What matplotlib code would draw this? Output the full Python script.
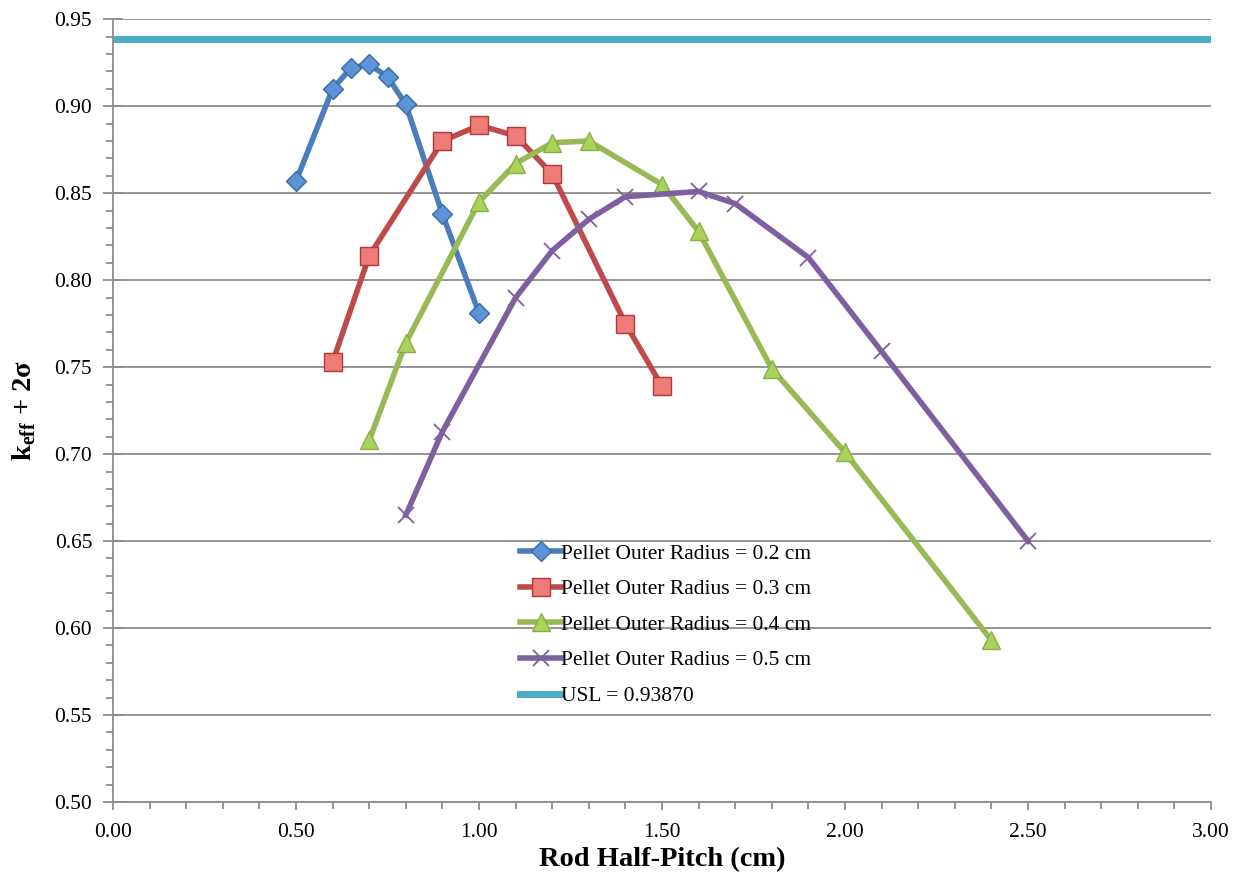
import matplotlib.pyplot as plt
from matplotlib.ticker import MultipleLocator, FormatStrFormatter

# data
x_02 = [0.5, 0.6, 0.65, 0.7, 0.75, 0.8, 0.9, 1.0]
k_02 = [0.857, 0.910, 0.922, 0.924, 0.917, 0.901, 0.838, 0.781]

x_03 = [0.6, 0.7, 0.9, 1.0, 1.1, 1.2, 1.4, 1.5]
k_03 = [0.753, 0.814, 0.880, 0.889, 0.883, 0.861, 0.775, 0.739]

x_04 = [0.7, 0.8, 1.0, 1.1, 1.2, 1.3, 1.5, 1.6, 1.8, 2.0, 2.4]
k_04 = [0.708, 0.764, 0.845, 0.867, 0.879, 0.880, 0.855, 0.828, 0.749, 0.701, 0.593]

x_05 = [0.8, 0.9, 1.1, 1.2, 1.3, 1.4, 1.6, 1.7, 1.9, 2.1, 2.5]
k_05 = [0.665, 0.713, 0.790, 0.817, 0.835, 0.848, 0.851, 0.844, 0.813, 0.759, 0.650]

usl = 0.93870

plt.rcParams['font.family'] = ['Liberation Serif', 'DejaVu Serif']
plt.rcParams['mathtext.fontset'] = 'custom'
plt.rcParams['mathtext.bf'] = 'Liberation Serif:bold'
plt.rcParams['mathtext.rm'] = 'Liberation Serif'

fig = plt.figure(figsize=(12.34, 8.75), dpi=100)
ax = fig.add_axes([0.0916, 0.0834, 0.8898, 0.8946])

lw = 4
ax.plot(x_02, k_02, color='#4A7EBB', lw=lw, marker='D', ms=10.5,
        mfc='#5B93D6', mec='#3A6BA8', mew=1, label='Pellet Outer Radius = 0.2 cm')
ax.plot(x_03, k_03, color='#BE4B48', lw=lw, marker='s', ms=13,
        mfc='#EE7B78', mec='#B03A37', mew=1, label='Pellet Outer Radius = 0.3 cm')
ax.plot(x_04, k_04, color='#98B954', lw=lw, marker='^', ms=12.5,
        mfc='#A9D45C', mec='#8AAE46', mew=1, label='Pellet Outer Radius = 0.4 cm')
ax.plot(x_05, k_05, color='#7D60A0', lw=lw, marker='x', ms=12,
        mec='#7D60A0', mew=1.3, label='Pellet Outer Radius = 0.5 cm')
ax.axhline(usl, color='#4BACC6', lw=5, label='USL = 0.93870')

ax.set_xlim(0, 3.0)
ax.set_ylim(0.50, 0.95)
ax.xaxis.set_major_locator(MultipleLocator(0.5))
ax.xaxis.set_minor_locator(MultipleLocator(0.1))
ax.yaxis.set_major_locator(MultipleLocator(0.05))
ax.yaxis.set_minor_locator(MultipleLocator(0.01))
ax.xaxis.set_major_formatter(FormatStrFormatter('%.2f'))
ax.yaxis.set_major_formatter(FormatStrFormatter('%.2f'))

ax.grid(True, axis='y', which='major', color='#8C8C8C', lw=1.3)
ax.set_axisbelow(True)
for s in ['top', 'right']:
    ax.spines[s].set_visible(False)
for s in ['left', 'bottom']:
    ax.spines[s].set_color('#8C8C8C')
    ax.spines[s].set_linewidth(1.3)

ax.tick_params(axis='both', which='major', labelsize=15.5, colors='#8C8C8C',
               labelcolor='black', width=1.3)
ax.tick_params(axis='y', which='major', direction='inout', length=14, pad=8)
ax.tick_params(axis='x', which='major', direction='out', length=6, pad=9)
ax.tick_params(axis='both', which='minor', colors='#8C8C8C', width=1.3,
               length=5, direction='out')

ax.set_xlabel('Rod Half-Pitch (cm)', fontsize=20.5, fontweight='bold', labelpad=4)
ax.set_ylabel(r'k$_{\mathbf{eff}}$ + 2σ', fontsize=20.5, fontweight='bold', labelpad=12)

ax.legend(loc='upper left', bbox_to_anchor=(0.363, 0.341), frameon=False,
          fontsize=15.5, handlelength=1.9, handletextpad=0.0, labelspacing=0.72,
          borderaxespad=0)

fig.savefig('out.png', dpi=100)
